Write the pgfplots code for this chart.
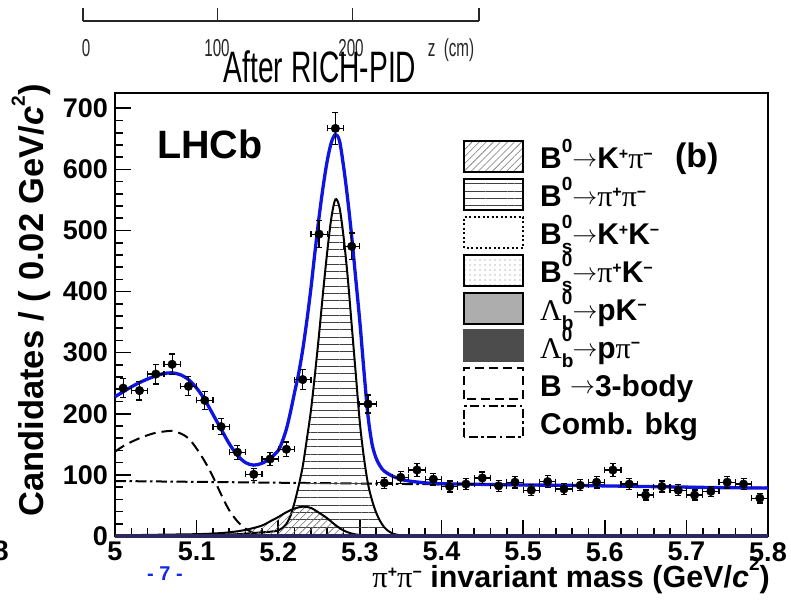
\documentclass[border=0pt]{standalone}
\usepackage{pgfplots}
\pgfplotsset{compat=1.18}
\usepackage{pgfplotstable}
\usepackage{fontspec}
\setmainfont{Liberation Sans}
\newfontfamily\serifsym{Liberation Serif}
\usetikzlibrary{patterns,patterns.meta}

\definecolor{fitblue}{RGB}{15,20,225}
\definecolor{pageblue}{RGB}{20,40,235}
\definecolor{axnavy}{RGB}{45,40,95}

% ROOT-like symbols: Greek letters from a serif font, thin long arrow
\newcommand{\pisym}{{\serifsym\mdseries π}}
\newcommand{\Lsym}{{\serifsym\mdseries Λ}}
\newcommand{\arr}{\raisebox{0.08em}{$\rightarrow$}}
\newcommand{\supz}[1]{\raisebox{0.55em}{\fontsize{19}{19}\selectfont #1}}
\newcommand{\chg}[1]{\raisebox{0.32em}{\fontsize{16}{16}\selectfont #1}}
\newcommand{\supsub}[2]{\makebox[0pt][l]{\raisebox{-0.3em}{\fontsize{19}{19}\selectfont #2}}\raisebox{0.55em}{\fontsize{19}{19}\selectfont #1}}
\newcommand{\rulerfont}{\fontsize{24.5}{24.5}\selectfont}

% candidates per 0.02 GeV/c^2 bin
\pgfplotstableread{
m     n    em    en
5.01  242  0.01  15.6
5.03  238  0.01  15.4
5.05  265  0.01  16.3
5.07  281  0.01  16.8
5.09  245  0.01  15.7
5.11  222  0.01  14.9
5.13  179  0.01  13.4
5.15  137  0.01  11.7
5.17  101  0.01  10.0
5.19  126  0.01  11.2
5.21  142  0.01  11.9
5.23  256  0.01  16.0
5.25  494  0.01  22.2
5.27  667  0.01  25.8
5.29  474  0.01  21.8
5.31  216  0.01  14.7
5.33  87   0.01  9.3
5.35  96   0.01  9.8
5.37  108  0.01  10.4
5.39  93   0.01  9.6
5.41  81   0.01  9.0
5.43  85   0.01  9.2
5.45  95   0.01  9.7
5.47  82   0.01  9.1
5.49  88   0.01  9.4
5.51  75   0.01  8.7
5.53  89   0.01  9.4
5.55  77   0.01  8.8
5.57  83   0.01  9.1
5.59  88   0.01  9.4
5.61  108  0.01  10.4
5.63  85   0.01  9.2
5.65  67   0.01  8.2
5.67  81   0.01  9.0
5.69  75   0.01  8.7
5.71  67   0.01  8.2
5.73  73   0.01  8.5
5.75  88   0.01  9.4
5.77  85   0.01  9.2
5.79  62   0.01  7.9
}\datapoints

% total fit
\pgfplotstableread{
m      f
5.000  228
5.010  236
5.020  244
5.030  251
5.040  257
5.050  262
5.060  266
5.070  267
5.080  264
5.090  256
5.100  242
5.110  223
5.120  199
5.130  175
5.140  151
5.150  132
5.160  120
5.170  116
5.180  119
5.190  127
5.200  140
5.205  155
5.210  175
5.215  203
5.220  235
5.225  266
5.230  305
5.235  352
5.240  405
5.245  465
5.250  522
5.255  572
5.260  614
5.265  644
5.270  657
5.275  647
5.280  605
5.285  552
5.290  490
5.295  420
5.300  350
5.305  270
5.310  196
5.315  150
5.320  127
5.325  114
5.330  106
5.340  98
5.350  93
5.360  90
5.380  87
5.400  85.5
5.450  84.5
5.500  83.5
5.550  83
5.600  82
5.650  81
5.700  80
5.750  79
5.800  78.5
}\fittotal

% B0 -> pi+ pi- signal
\pgfplotstableread{
m      f
5.100  1
5.150  3
5.170  5
5.190  7
5.200  9
5.205  13
5.210  20
5.215  33
5.220  55
5.225  82
5.230  114
5.235  158
5.240  205
5.245  265
5.250  330
5.255  400
5.260  465
5.265  520
5.270  551
5.275  538
5.280  490
5.285  425
5.290  345
5.295  265
5.300  185
5.305  128
5.310  85
5.315  58
5.320  38
5.325  24
5.330  14
5.335  8
5.340  4
5.350  1
5.360  0
}\bpipi

% B0 -> K+ pi- misidentified
\pgfplotstableread{
m     f
5.00  1
5.05  2
5.10  3
5.12  4
5.14  6
5.16  10
5.18  17
5.19  24
5.20  31
5.21  39
5.22  45
5.23  48
5.24  46
5.25  38
5.26  29
5.27  18
5.28  9
5.29  4
5.30  1.5
5.31  0.5
5.32  0
}\bkpi

% partially reconstructed 3-body decays
\pgfplotstableread{
m     f
5.00  138
5.01  147
5.02  154
5.03  160
5.04  165
5.05  169
5.06  171
5.07  172
5.08  168
5.09  160
5.10  143
5.11  122
5.12  97
5.13  68
5.14  42
5.15  24
5.16  12
5.17  5
5.18  2
5.19  1
5.20  0
5.21  0
}\threebody

% combinatorial background
\pgfplotstableread{
m     f
5.00  90
5.20  87.2
5.40  84.5
5.60  81.7
5.80  79
}\combbkg

\begin{document}
\begin{tikzpicture}
\useasboundingbox (0,0) rectangle (791pt,600pt);

% z scale bar
\begin{axis}[
  at={(83pt,579pt)}, anchor=south west, scale only axis,
  width=396pt, height=13pt,
  xmin=0, xmax=294, ymin=0, ymax=1,
  axis x line*=bottom, axis y line=none,
  axis line style={line width=1.1pt, black!85},
  xtick={0,100,200,294}, xticklabels={},
  tick align=inside, major tick length=13pt,
  every tick/.style={line width=1.1pt, black!85},
]
\end{axis}
\node[font=\rulerfont, xscale=0.62, inner sep=0pt, anchor=base, text=black!85] at (86pt,543pt) {0};
\node[font=\rulerfont, xscale=0.62, inner sep=0pt, anchor=base, text=black!85] at (217pt,543pt) {100};
\node[font=\rulerfont, xscale=0.62, inner sep=0pt, anchor=base, text=black!85] at (351pt,543pt) {200};
\node[font=\rulerfont, xscale=0.62, inner sep=0pt, anchor=base, text=black!85] at (451pt,543pt) {z\ \ (cm)};

\node[anchor=base, font=\fontsize{44}{44}\selectfont, xscale=0.64, inner sep=0pt] at (320pt,517pt) {After RICH-PID};
\node[anchor=base east, font=\fontsize{28}{28}\selectfont\bfseries, inner sep=0pt] at (9pt,40pt) {8};
\node[anchor=base, font=\fontsize{20}{20}\selectfont\bfseries, text=pageblue, inner sep=0pt] at (165pt,20pt) {-\ 7\ -};

\begin{axis}[
  at={(115pt,64pt)}, anchor=south west, scale only axis,
  width=653pt, height=443pt,
  xmin=5, xmax=5.8, ymin=0, ymax=725,
  clip=false,
  axis line style={line width=2pt},
  tick pos=left, tick align=inside,
  major tick length=16pt, minor tick length=8pt,
  every tick/.style={black, line width=1.6pt},
  xtick={5,5.1,5.2,5.3,5.4,5.5,5.6,5.7,5.8},
  xticklabels={5,5.1,5.2,5.3,5.4,5.5,5.6,5.7,5.8},
  minor x tick num=4,
  ytick={0,100,200,300,400,500,600,700},
  yticklabels={0,100,200,300,400,500,600,700},
  minor y tick num=4,
  ticklabel style={font=\fontsize{27}{27}\selectfont\bfseries, inner sep=0pt},
  xticklabel style={anchor=north, yshift=-6pt},
  yticklabel style={anchor=east, xshift=-7pt},
  xlabel={\pisym\chg{+}\pisym\chg{−} invariant mass (GeV/\textit{c}\supz{2})},
  xlabel style={at={(axis description cs:1.003,0)}, anchor=north east, yshift=-21pt, inner sep=0pt, font=\fontsize{30.5}{30.5}\selectfont\bfseries},
  ylabel={Candidates / ( 0.02 GeV/\textit{c}\supz{2})},
  ylabel style={at={(axis description cs:-0.128,1.02)}, anchor=east, inner sep=0pt, font=\fontsize{34.5}{34.5}\selectfont\bfseries},
  legend image code/.code={\draw[#1] (0pt,-3pt) rectangle (59pt,28pt);},
  legend style={at={(axis description cs:0.5329,0.895)}, anchor=north west,
    draw=none, fill=none, inner sep=0pt, outer sep=0pt,
    row sep=4.9pt, column sep=16pt,
    font=\fontsize{30}{30}\selectfont\bfseries,
    nodes={inner sep=0pt, text height=28pt, text depth=3pt, anchor=base west}},
]

% combinatorial background
\addplot[forget plot, black, line width=2pt, dash pattern=on 11pt off 3.5pt on 2.5pt off 3.5pt] table[x=m, y=f] {\combbkg};
% 3-body background
\addplot[forget plot, black, line width=2pt, smooth, dash pattern=on 11pt off 6pt] table[x=m, y=f] {\threebody};
% B0 -> pi pi
\addplot[forget plot, black, line width=2pt, smooth, pattern={Lines[angle=0, distance=7.3pt, line width=0.9pt]}, pattern color=black!75] table[x=m, y=f] {\bpipi} \closedcycle;
% B0 -> K pi
\addplot[forget plot, black, line width=2pt, smooth, pattern={Lines[angle=45, distance=5pt, line width=0.6pt]}, pattern color=black!55] table[x=m, y=f] {\bkpi} \closedcycle;
% near-zero components along the baseline
\addplot[forget plot, axnavy, line width=3.5pt] coordinates {(5,0) (5.8,0)};
% total fit
\addplot[forget plot, fitblue, line width=3.3pt, smooth] table[x=m, y=f] {\fittotal};
% data
\addplot[forget plot, only marks, mark=*, mark size=4.3pt, black,
  error bars/.cd, x dir=both, x explicit, y dir=both, y explicit,
  error bar style={line width=1.2pt, black},
  error mark options={rotate=90, mark size=3pt, line width=1.2pt, black}]
  table[x=m, y=n, x error=em, y error=en] {\datapoints};

% legend
\addlegendimage{draw=black, line width=2.2pt, pattern={Lines[angle=45, distance=5pt, line width=0.6pt]}, pattern color=black!55}
\addlegendentry{B\supz{0}\arr K\chg{+}\pisym\chg{−}}
\addlegendimage{draw=black, line width=2.2pt, pattern={Lines[angle=0, distance=7.3pt, line width=0.9pt]}, pattern color=black!75}
\addlegendentry{B\supz{0}\arr\pisym\chg{+}\pisym\chg{−}}
\addlegendimage{draw=black, line width=2pt, dash pattern=on 2pt off 2.5pt}
\addlegendentry{B\supsub{0}{s}\arr K\chg{+}K\chg{−}}
\addlegendimage{draw=black, line width=2pt, pattern={Dots[distance=5pt, radius=0.6pt]}, pattern color=black!55}
\addlegendentry{B\supsub{0}{s}\arr\pisym\chg{+}K\chg{−}}
\addlegendimage{draw=black, line width=2pt, fill=black!32}
\addlegendentry{\Lsym\supsub{0}{b}\arr pK\chg{−}}
\addlegendimage{draw=black!70, line width=2pt, fill=black!70}
\addlegendentry{\Lsym\supsub{0}{b}\arr p\pisym\chg{−}}
\addlegendimage{draw=black, line width=2pt, dash pattern=on 9pt off 5pt}
\addlegendentry{B \arr3-body}
\addlegendimage{draw=black, line width=2pt, dash pattern=on 9pt off 3.5pt on 2.5pt off 3.5pt}
\addlegendentry{Comb. bkg}

\node[anchor=base west, font=\fontsize{39.5}{40}\selectfont\bfseries, inner sep=0pt] at (axis description cs:0.0643,0.852) {LHCb};
\node[anchor=base, font=\fontsize{34}{34}\selectfont\bfseries, inner sep=0pt] at (axis description cs:0.891,0.8307) {(b)};
\end{axis}
\end{tikzpicture}
\end{document}
